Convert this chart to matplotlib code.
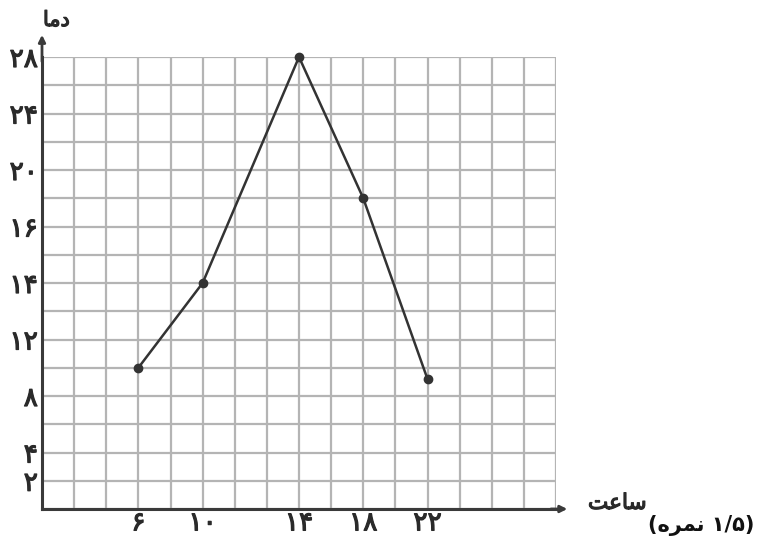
import numpy as np
import matplotlib
matplotlib.use('Agg')
import matplotlib.pyplot as plt
import matplotlib.patheffects as pe
from matplotlib.ticker import FixedLocator, FuncFormatter

# داده‌ها: ساعت و دما
hours = [6, 10, 14, 18, 22]
temps = [10, 14, 28, 18, 9.2]

# برچسب‌های محورها (محور غیرخطی کتاب درسی)
x_tick_vals = [6, 10, 14, 18, 22]
x_tick_cells = [3, 5, 8, 10, 12]
y_tick_vals = [2, 4, 8, 12, 14, 16, 20, 24, 28]
y_tick_cells = [1, 2, 4, 6, 8, 10, 12, 14, 16]

N_CELLS = 16
FA_DIGITS = str.maketrans('0123456789', '۰۱۲۳۴۵۶۷۸۹')

# متن فارسی با شکل‌های اتصالی (ترتیب نمایش چپ به راست)
LBL_Y = '\uFE8E\uFEE3\uFEA9'              # دما
LBL_X = '\uFE96\uFECB\uFE8E\uFEB3'        # ساعت
NOTE = '(\uFEE9\uFEAE\uFEE4\uFEE7 ۱/۵)'   # (۱/۵ نمره)


def piecewise(v, xp, fp):
    """درون‌یابی خطی با برون‌یابی در دو سر"""
    v = np.asarray(v, dtype=float)
    out = np.interp(v, xp, fp)
    lo = v < xp[0]
    hi = v > xp[-1]
    out[lo] = fp[0] + (v[lo] - xp[0]) * (fp[1] - fp[0]) / (xp[1] - xp[0])
    out[hi] = fp[-1] + (v[hi] - xp[-1]) * (fp[-1] - fp[-2]) / (xp[-1] - xp[-2])
    return out


def x_fwd(v): return piecewise(v, x_tick_vals, x_tick_cells)
def x_inv(v): return piecewise(v, x_tick_cells, x_tick_vals)
def y_fwd(v): return piecewise(v, y_tick_vals, y_tick_cells)
def y_inv(v): return piecewise(v, y_tick_cells, y_tick_vals)


W, H = 758, 545
fig = plt.figure(figsize=(W / 100, H / 100), dpi=100)
ax = fig.add_axes([42 / W, (H - 509) / H, 514 / W, 452 / H])

ax.set_xscale('function', functions=(x_fwd, x_inv))
ax.set_yscale('function', functions=(y_fwd, y_inv))
ax.set_xlim(float(x_inv([0])[0]), float(x_inv([N_CELLS])[0]))
ax.set_ylim(float(y_inv([0])[0]), float(y_inv([N_CELLS])[0]))

cells = np.arange(N_CELLS + 1)
ax.xaxis.set_major_locator(FixedLocator(x_tick_vals))
ax.yaxis.set_major_locator(FixedLocator(y_tick_vals))
ax.xaxis.set_minor_locator(FixedLocator(x_inv(cells)))
ax.yaxis.set_minor_locator(FixedLocator(y_inv(cells)))
fa_fmt = FuncFormatter(lambda v, p: str(int(round(v))).translate(FA_DIGITS))
ax.xaxis.set_major_formatter(fa_fmt)
ax.yaxis.set_major_formatter(fa_fmt)

ax.grid(True, which='both', color='#b4b4b4', linewidth=1.6, zorder=0)
ax.set_axisbelow(True)
ax.tick_params(which='both', length=0)
ax.tick_params(axis='x', pad=1, labelsize=19, labelcolor='#2a2a2a')
ax.tick_params(axis='y', pad=3, labelsize=19, labelcolor='#2a2a2a')
thick = [pe.withStroke(linewidth=0.9, foreground='#2a2a2a')]
for lbl in ax.get_xticklabels() + ax.get_yticklabels():
    lbl.set_path_effects(thick)

for s in ['top', 'right']:
    ax.spines[s].set_visible(False)
for s in ['left', 'bottom']:
    ax.spines[s].set_color('#3a3a3a')
    ax.spines[s].set_linewidth(2.2)
    ax.spines[s].set_zorder(3)

# فلش محورها
arrow = dict(arrowstyle='-|>', color='#3a3a3a', lw=2.0, mutation_scale=10,
             shrinkA=0, shrinkB=0)
ax.annotate('', xy=(0, 1.049), xytext=(0, 0.99), xycoords='axes fraction',
            arrowprops=arrow, annotation_clip=False)
ax.annotate('', xy=(1.022, 0), xytext=(0.99, 0), xycoords='axes fraction',
            arrowprops=arrow, annotation_clip=False)

# نمودار دما
ax.plot(hours, temps, color='#333333', linewidth=1.8, marker='o',
        markersize=6, zorder=4, clip_on=False)

fig.text(43 / W, 1 - 20 / H, LBL_Y, ha='left', va='center', fontsize=15,
         color='#2a2a2a', path_effects=thick)
fig.text(588 / W, 1 - 503 / H, LBL_X, ha='left', va='center', fontsize=15.5,
         color='#2a2a2a', path_effects=thick)
fig.text(648 / W, 1 - 526 / H, NOTE, ha='left', va='center', fontsize=15,
         color='#111111', fontweight='bold')

fig.savefig('out.png', dpi=100)
